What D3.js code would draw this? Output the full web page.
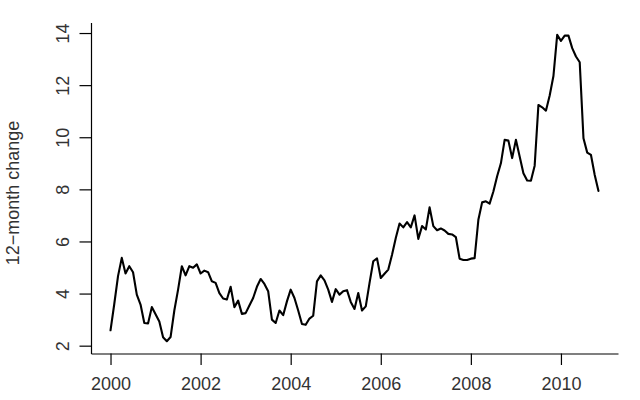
<!DOCTYPE html>
<html><head><meta charset="utf-8">
<script src="https://cdn.jsdelivr.net/npm/d3@7"></script>
<style>
html,body{margin:0;padding:0;background:#fff;}
svg text{font-family:"Liberation Sans",Arial,sans-serif;}
</style></head>
<body><svg id="c" width="640" height="400"></svg>
<script>
// Monthly series starting January 2000
const startYear = 2000;
const values = [
 2.59,3.6,4.67,5.37,4.77,5.05,4.82,3.96,3.58,2.87,2.85,3.48,
 3.21,2.93,2.32,2.17,2.33,3.35,4.15,5.05,4.7,5.05,4.99,5.12,
 4.77,4.88,4.82,4.47,4.41,4.02,3.81,3.77,4.26,3.48,3.73,3.22,
 3.25,3.54,3.83,4.26,4.56,4.37,4.09,3.0,2.87,3.35,3.17,3.7,
 4.15,3.83,3.35,2.83,2.8,3.04,3.15,4.47,4.7,4.51,4.15,3.68,
 4.17,3.96,4.09,4.13,3.68,3.41,4.02,3.35,3.51,4.4,5.24,5.35,
 4.6,4.76,4.92,5.49,6.13,6.69,6.54,6.74,6.54,7.0,6.1,6.59,
 6.46,7.31,6.59,6.43,6.5,6.42,6.29,6.27,6.17,5.34,5.29,5.29,
 5.34,5.36,6.83,7.5,7.54,7.45,7.92,8.5,9.0,9.9,9.87,9.2,
 9.9,9.26,8.62,8.34,8.33,8.91,11.24,11.15,11.02,11.6,12.35,13.93,
 13.7,13.9,13.9,13.42,13.1,12.88,9.96,9.41,9.32,8.55,7.94
];
const xTicks = [2000,2002,2004,2006,2008,2010];
const yTicks = [2,4,6,8,10,12,14];
const yLabel = "12\u2212month change";

const data = values.map((v,i)=>({t:startYear+i/12, v}));
const svg = d3.select("#c");
const L=91, R=618, T=22.6, B=353.5;

function ext(e){const s=e[1]-e[0];return [e[0]-0.04*s,e[1]+0.04*s];}
const x = d3.scaleLinear().domain(ext(d3.extent(data,d=>d.t))).range([L,R]);
const y = d3.scaleLinear().domain(ext(d3.extent(data,d=>d.v))).range([B,T]);

const tickLen = 11.5, fs = 18, txt = "#333";

const gx = svg.append("g").attr("transform",`translate(0,${B})`)
  .call(d3.axisBottom(x).tickValues(xTicks).tickFormat(d3.format("d")).tickSizeInner(tickLen).tickSizeOuter(0));
gx.select(".domain").attr("stroke","#000").attr("stroke-width",1.2);
gx.selectAll(".tick line").attr("stroke","#000").attr("stroke-width",1.2);
gx.selectAll(".tick text").attr("y",36.5).attr("dy",null).attr("font-size",fs).attr("fill",txt)
  .attr("font-family","Liberation Sans, Arial, sans-serif");

const gy = svg.append("g").attr("transform",`translate(${L},0)`)
  .call(d3.axisLeft(y).tickValues(yTicks).tickFormat(d3.format("d")).tickSizeInner(tickLen).tickSizeOuter(0));
gy.select(".domain").attr("stroke","#000").attr("stroke-width",1.2);
gy.selectAll(".tick line").attr("stroke","#000").attr("stroke-width",1.2);
gy.selectAll(".tick text").attr("x",null).attr("dy",null)
  .attr("transform","translate(-22,0) rotate(-90)")
  .attr("text-anchor","middle").attr("font-size",fs).attr("fill",txt)
  .attr("font-family","Liberation Sans, Arial, sans-serif");

svg.append("text").attr("transform",`translate(18.5,${(T+B)/2+5}) rotate(-90)`)
  .attr("text-anchor","middle").attr("font-size",fs).attr("fill",txt).text(yLabel);

svg.append("path").datum(data)
  .attr("d",d3.line().x(d=>x(d.t)).y(d=>y(d.v)))
  .attr("fill","none").attr("stroke","#000").attr("stroke-width",2.1)
  .attr("stroke-linejoin","round").attr("stroke-linecap","round");
</script></body></html>
